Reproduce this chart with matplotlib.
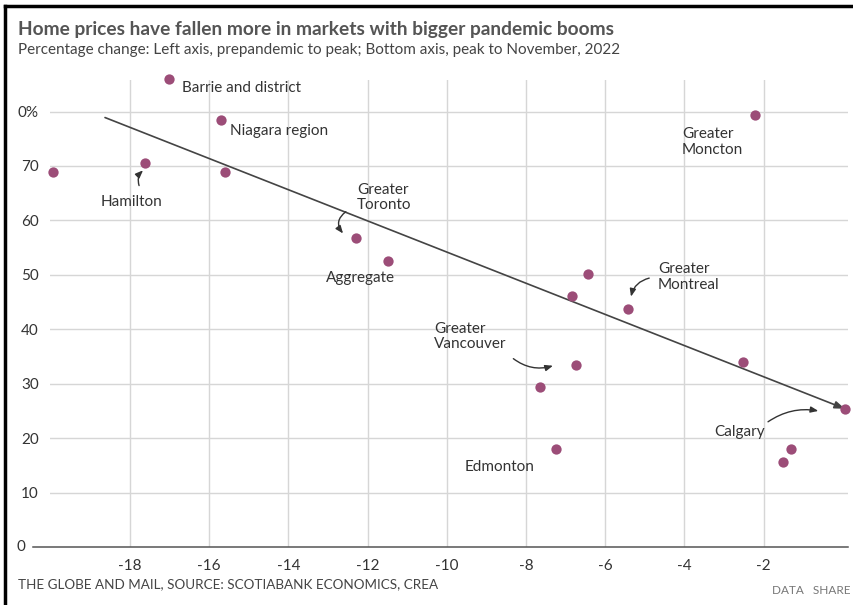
import matplotlib
matplotlib.use("Agg")
import matplotlib.pyplot as plt
from matplotlib.lines import Line2D

# peak to November 2022 (x) vs prepandemic to peak (y), percent
peak_to_nov = [-19.95, -17.62, -17.02, -15.70, -15.60, -12.29, -11.48, -6.43, -6.84,
               -5.42, -6.74, -7.65, -7.24, -2.52, -2.22, -1.31, -1.51, 0.05]
pre_to_peak = [68.9, 70.6, 86.0, 78.5, 68.9, 56.8, 52.6, 50.2, 46.1,
               43.8, 33.5, 29.4, 18.0, 34.0, 79.4, 18.0, 15.6, 25.4]

trend_x = [-18.63, 0.05]
trend_y = [78.9, 25.4]

x_ticks = [-18, -16, -14, -12, -10, -8, -6, -4, -2]
y_ticks = [10, 20, 30, 40, 50, 60, 70, 80]
y_labels = ["10", "20", "30", "40", "50", "60", "70", "0%"]

# label text, text position, alignment, arrow start, arrow end, curvature
labels = [
    ("Barrie and district", (-16.69, 84.4), "left", None, None, 0),
    ("Niagara region", (-15.47, 76.5), "left", None, None, 0),
    ("Hamilton", (-17.97, 63.4), "center", (-17.77, 66.4), (-17.67, 69.2), -0.3),
    ("Greater\nToronto", (-12.27, 64.2), "left", (-12.55, 61.6), (-12.62, 57.6), 0.5),
    ("Aggregate", (-12.19, 49.4), "center", None, None, 0),
    ("Greater\nVancouver", (-10.32, 38.6), "left", (-8.32, 34.6), (-7.32, 33.3), 0.25),
    ("Greater\nMontreal", (-4.67, 49.6), "left", (-4.89, 49.4), (-5.35, 46.0), 0.3),
    ("Greater\nMoncton", (-4.06, 74.4), "left", None, None, 0),
    ("Edmonton", (-9.54, 14.7), "left", None, None, 0),
    ("Calgary", (-1.96, 21.1), "right", (-1.89, 23.0), (-0.62, 25.0), -0.2),
]

plt.rcParams['font.family'] = ['Lato', 'DejaVu Sans']

fig = plt.figure(figsize=(8.54, 6.05), dpi=100)
ax = fig.add_axes([0.0585, 0.0959, 0.9345, 0.7719])

ax.set_xlim(-20.02, 0.13)
ax.set_ylim(0, 85.8)
ax.set_xticks(x_ticks)
ax.set_xticklabels([str(v) for v in x_ticks])
ax.set_yticks(y_ticks)
ax.set_yticklabels(y_labels)
ax.tick_params(length=0, labelsize=11, colors='#333333')
ax.tick_params(axis='x', pad=9)
ax.tick_params(axis='y', pad=8)
ax.grid(True, color='#d6d6d6', lw=1.0)
ax.set_axisbelow(True)
for s in ax.spines.values():
    s.set_visible(False)

# zero baseline runs further left than the grid
ax.add_line(Line2D([-0.021, 1.0], [0, 0], transform=ax.transAxes, color='#555555',
                   lw=1.1, clip_on=False))
ax.text(-0.031, 0, "0", transform=ax.transAxes, ha='right', va='center',
        fontsize=11, color='#333333')

ax.annotate("", xy=(trend_x[1], trend_y[1]), xytext=(trend_x[0], trend_y[0]),
            arrowprops=dict(arrowstyle='-|>,head_length=0.6,head_width=0.22',
                            color='#444444', lw=1.2, shrinkA=0, shrinkB=0))

ax.scatter(peak_to_nov, pre_to_peak, s=55, color='#9c4d78', zorder=3,
           clip_on=False, linewidths=0)

for text, pos, ha, a_from, a_to, rad in labels:
    ax.text(pos[0], pos[1], text, ha=ha, va='center', fontsize=11,
            color='#333333', linespacing=1.1)
    if a_from is not None:
        ax.annotate("", xy=a_to, xytext=a_from,
                    arrowprops=dict(arrowstyle='-|>,head_length=0.45,head_width=0.18',
                                    color='#333333', lw=1.0, shrinkA=0, shrinkB=0,
                                    connectionstyle=f'arc3,rad={rad}'))

fig.text(18 / 854, 1 - 29 / 605, "Home prices have fallen more in markets with bigger pandemic booms",
         fontsize=13.8, fontweight='bold', color='#555555', va='center')
fig.text(18 / 854, 1 - 50 / 605,
         "Percentage change: Left axis, prepandemic to peak; Bottom axis, peak to November, 2022",
         fontsize=11, color='#444444', va='center')
fig.text(18 / 854, 1 - 584 / 605, "THE GLOBE AND MAIL, SOURCE: SCOTIABANK ECONOMICS, CREA",
         fontsize=9.7, color='#444444', va='center')
fig.text(851 / 854, 1 - 590 / 605, "DATA   SHARE", fontsize=8.5, color='#777777',
         va='center', ha='right')

# frame at top and left edges
fig.add_artist(Line2D([5 / 854, 1], [1 - 6 / 605, 1 - 6 / 605], color='black', lw=2.5))
fig.add_artist(Line2D([5 / 854, 5 / 854], [0, 1 - 6 / 605], color='black', lw=2.5))

fig.savefig("out.png", dpi=100)
